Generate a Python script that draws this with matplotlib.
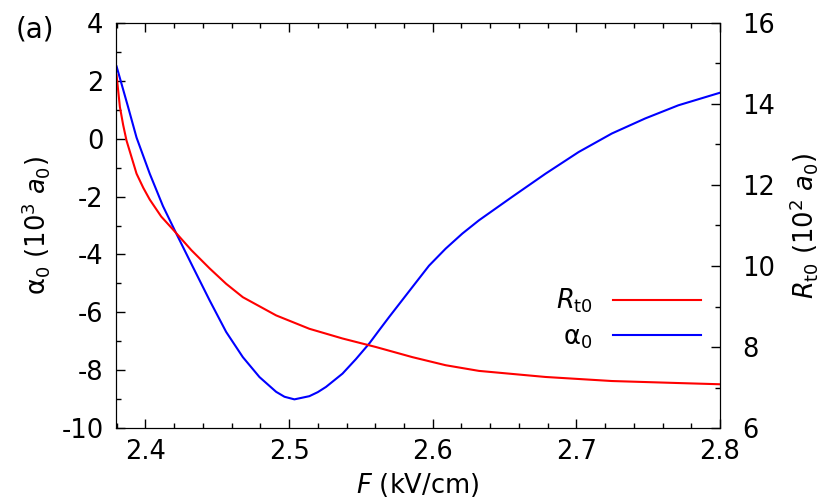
import matplotlib
matplotlib.use("Agg")
import matplotlib.pyplot as plt
from matplotlib.ticker import MultipleLocator

plt.rcParams['mathtext.fontset'] = 'dejavusans'
plt.rcParams['font.family'] = ['DejaVu Sans']

# alpha_0 (10^3 a0), left axis
F_alpha = [2.3799, 2.3879, 2.3938, 2.4030, 2.4122, 2.4215, 2.4330, 2.4447, 2.4562, 2.4678,
           2.4794, 2.4910, 2.4968, 2.5037, 2.5141, 2.5200, 2.5257, 2.5372, 2.5465, 2.5558,
           2.5627, 2.5697, 2.5858, 2.5974, 2.6090, 2.6206, 2.6322, 2.6553, 2.6785,
           2.7016, 2.7247, 2.7479, 2.7710, 2.8000]
alpha0 = [2.50, 1.10, 0.04, -1.21, -2.33, -3.28, -4.43, -5.59, -6.68, -7.55,
          -8.24, -8.75, -8.92, -9.01, -8.90, -8.76, -8.58, -8.12, -7.62, -7.08,
          -6.62, -6.16, -5.13, -4.39, -3.80, -3.28, -2.82, -2.01, -1.21,
          -0.46, 0.18, 0.70, 1.155, 1.59]

# R_t0 (10^2 a0), right axis
F_R = [2.3799, 2.3822, 2.3845, 2.3868, 2.3938, 2.3985, 2.4030, 2.4110, 2.4192, 2.4320,
       2.4447, 2.4562, 2.4678, 2.4910, 2.5141, 2.5372, 2.5604, 2.5858, 2.6090, 2.6322,
       2.6785, 2.7247, 2.7710, 2.8000]
R_t0 = [14.71, 13.93, 13.48, 13.10, 12.28, 11.93, 11.64, 11.22, 10.90, 10.39,
        9.94, 9.56, 9.23, 8.78, 8.45, 8.21, 8.00, 7.75, 7.55, 7.41,
        7.26, 7.16, 7.11, 7.08]

fig = plt.figure(figsize=(8.3, 4.98), dpi=100)
ax = fig.add_axes([116/830, 1-428/498, (720-116)/830, (428-23)/498])
ax2 = ax.twinx()

lr, = ax2.plot(F_R, R_t0, color='red', lw=1.5, label=r'$R_{\mathrm{t0}}$')
lb, = ax.plot(F_alpha, alpha0, color='blue', lw=1.5, label=r'α$_0$')

ax.set_xlim(2.3795, 2.8)
ax.set_ylim(-10, 4)
ax2.set_ylim(6, 16)

ax.xaxis.set_major_locator(MultipleLocator(0.1))
ax.xaxis.set_minor_locator(MultipleLocator(0.02))
ax.yaxis.set_major_locator(MultipleLocator(2))
ax.yaxis.set_minor_locator(MultipleLocator(1))
ax2.yaxis.set_major_locator(MultipleLocator(2))
ax2.yaxis.set_minor_locator(MultipleLocator(1))

fs = 18.5
ax.tick_params(axis='x', which='both', direction='in', top=True, labelsize=fs, pad=8)
ax.tick_params(axis='y', which='both', direction='in', right=False, labelsize=fs, pad=9)
ax.tick_params(which='major', length=6.5, width=1)
ax.tick_params(which='minor', length=3.5, width=1)
ax2.tick_params(axis='y', which='both', direction='in', labelsize=fs, pad=16)
ax2.tick_params(which='major', length=6.5, width=1)
ax2.tick_params(which='minor', length=3.5, width=1)

ax.set_xticklabels([f"{v:.1f}" for v in ax.get_xticks()])
ax.set_yticklabels([f"{int(v)}" for v in ax.get_yticks()])
ax2.set_yticklabels([f"{int(v)}" for v in ax2.get_yticks()])

ax.set_xlabel(r'$F$ (kV/cm)', fontsize=fs)
ax.set_ylabel(r'α$_0$ (10$^3$ $a_0$)', fontsize=fs)
ax2.set_ylabel(r'$R_{\mathrm{t0}}$ (10$^2$ $a_0$)', fontsize=fs)
ax.xaxis.set_label_coords(0.5, -0.105)
ax.yaxis.set_label_coords(-0.106, 0.5)
ax2.yaxis.set_label_coords(1.111, 0.5)

ax.legend(handles=[lr, lb], loc='lower right', bbox_to_anchor=(0.985, 0.165),
          frameon=False, markerfirst=False, fontsize=fs, handlelength=3.4,
          labelspacing=0.35, handletextpad=0.8, borderaxespad=0)

fig.text(35/830, 1-29/498, '(a)', fontsize=20, ha='center', va='center')

fig.savefig('out.png', dpi=100)
